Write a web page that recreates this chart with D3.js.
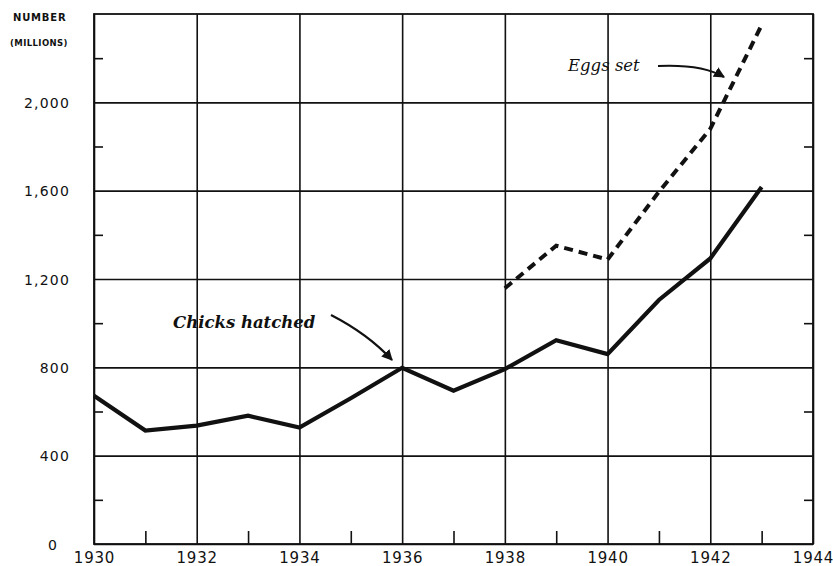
<!DOCTYPE html>
<html>
<head>
<meta charset="utf-8">
<script src="https://cdn.jsdelivr.net/npm/d3@7"></script>
<style>
  html, body { margin: 0; padding: 0; background: #fff; }
  svg { display: block; }
</style>
</head>
<body>
<svg id="chart" width="833" height="566"></svg>
<script>
// ---- data ----
const years = [1930, 1931, 1932, 1933, 1934, 1935, 1936, 1937, 1938, 1939, 1940, 1941, 1942, 1943];
const chicksHatched = [671, 514, 536, 581, 527, 660, 798, 694, 792, 923, 860, 1105, 1293, 1617];
const eggYears = [1938, 1939, 1940, 1941, 1942, 1943];
const eggsSet = [1158, 1351, 1288, 1595, 1880, 2350];
const yTickValues = [0, 400, 800, 1200, 1600, 2000];
const yTickLabels = ["0", "400", "800", "1,200", "1,600", "2,000"];
const yMinorValues = [200, 600, 1000, 1400, 1800, 2200];
const xTickValues = [1930, 1932, 1934, 1936, 1938, 1940, 1942, 1944];
const xTickLabels = ["1930", "1932", "1934", "1936", "1938", "1940", "1942", "1944"];
const xMinorValues = [1931, 1933, 1935, 1937, 1939, 1941, 1943];
const unitLabel = ["NUMBER", "(MILLIONS)"];
const seriesLabels = ["Chicks hatched", "Eggs set"];

(function () {
// ---- layout ----
const svg = d3.select("#chart");
const pl = 94, pr = 813, pt = 14, pb = 544;
const x = d3.scaleLinear().domain([1930, 1944]).range([pl, pr]);
const y = d3.scaleLinear().domain([0, 2400]).range([pb, pt]);
const W = pr - pl, H = pb - pt;
const ink = "#111";

// horizontal gridlines + labels
const yAxis = svg.append("g")
  .attr("transform", `translate(${pl},0)`)
  .call(d3.axisLeft(y).tickValues(yTickValues).tickSize(-W).tickPadding(24)
    .tickFormat((d, i) => yTickLabels[i]));
yAxis.select(".domain").remove();
yAxis.selectAll(".tick line").attr("stroke", ink).attr("stroke-width", 1.6);
yAxis.selectAll(".tick text")
  .attr("fill", ink).attr("font-family", "DejaVu Sans, sans-serif")
  .attr("font-size", 14).attr("letter-spacing", 1.2).attr("dy", "0.36em")
  .attr("dx", d => d === 0 ? -12 : 0);

// vertical gridlines + labels
const xAxis = svg.append("g")
  .attr("transform", `translate(0,${pb})`)
  .call(d3.axisBottom(x).tickValues(xTickValues).tickSize(-H).tickPadding(8)
    .tickFormat((d, i) => xTickLabels[i]));
xAxis.select(".domain").remove();
xAxis.selectAll(".tick line").attr("stroke", ink).attr("stroke-width", 1.6);
xAxis.selectAll(".tick text")
  .attr("fill", ink).attr("font-family", "DejaVu Sans, sans-serif")
  .attr("font-size", 15).attr("letter-spacing", 0.8);

// minor ticks: bottom (odd years), left and right (200s)
const xMinor = svg.append("g").attr("transform", `translate(0,${pb})`)
  .call(d3.axisBottom(x).tickValues(xMinorValues).tickSize(-13).tickFormat(""));
xMinor.select(".domain").remove();
xMinor.selectAll(".tick line").attr("stroke", ink).attr("stroke-width", 1.6);

const yMinorL = svg.append("g").attr("transform", `translate(${pl},0)`)
  .call(d3.axisLeft(y).tickValues(yMinorValues).tickSize(-9).tickFormat(""));
yMinorL.select(".domain").remove();
yMinorL.selectAll(".tick line").attr("stroke", ink).attr("stroke-width", 1.6);

const yMinorR = svg.append("g").attr("transform", `translate(${pr},0)`)
  .call(d3.axisRight(y).tickValues(yMinorValues).tickSize(-9).tickFormat(""));
yMinorR.select(".domain").remove();
yMinorR.selectAll(".tick line").attr("stroke", ink).attr("stroke-width", 1.6);

// frame
svg.append("rect")
  .attr("x", pl).attr("y", y(2400)).attr("width", W).attr("height", pb - y(2400))
  .attr("fill", "none").attr("stroke", ink).attr("stroke-width", 1.8);

// unit label
svg.append("text").attr("x", 13).attr("y", 21)
  .attr("font-family", "DejaVu Sans, sans-serif").attr("font-weight", "bold")
  .attr("font-size", 10).attr("letter-spacing", 0.8).attr("fill", ink).text(unitLabel[0]);
svg.append("text").attr("x", 10).attr("y", 46)
  .attr("font-family", "DejaVu Sans, sans-serif").attr("font-weight", "bold")
  .attr("font-size", 8.5).attr("letter-spacing", 0.4).attr("fill", ink).text(unitLabel[1]);

// series lines
const line = d3.line().x(d => x(d[0])).y(d => y(d[1]));
svg.append("path")
  .datum(years.map((yr, i) => [yr, chicksHatched[i]]))
  .attr("d", line).attr("fill", "none").attr("stroke", ink)
  .attr("stroke-width", 4.2).attr("stroke-linejoin", "miter");
svg.append("path")
  .datum(eggYears.map((yr, i) => [yr, eggsSet[i]]))
  .attr("d", line).attr("fill", "none").attr("stroke", ink)
  .attr("stroke-width", 4).attr("stroke-dasharray", "9,6");

// annotations
const defs = svg.append("defs");
defs.append("marker").attr("id", "ah").attr("viewBox", "0 0 10 10")
  .attr("refX", 9).attr("refY", 5).attr("markerWidth", 5).attr("markerHeight", 5)
  .attr("orient", "auto-start-reverse")
  .append("path").attr("d", "M0,0 L10,5 L0,10 Z").attr("fill", ink);

svg.append("text").attr("x", 173).attr("y", 328)
  .attr("font-family", "DejaVu Serif, serif").attr("font-style", "italic").attr("font-weight", "bold")
  .attr("font-size", 16.5).attr("fill", ink).text(seriesLabels[0]);
svg.append("path")
  .attr("d", "M331,315 Q368,334 392,360")
  .attr("fill", "none").attr("stroke", ink).attr("stroke-width", 2.2)
  .attr("marker-end", "url(#ah)");

svg.append("text").attr("x", 568).attr("y", 71)
  .attr("font-family", "DejaVu Serif, serif").attr("font-style", "italic")
  .attr("font-size", 16.5).attr("fill", ink).text(seriesLabels[1]);
svg.append("path")
  .attr("d", "M658,66 Q702,64 724,77")
  .attr("fill", "none").attr("stroke", ink).attr("stroke-width", 2.2)
  .attr("marker-end", "url(#ah)");
})();
</script>
</body>
</html>
